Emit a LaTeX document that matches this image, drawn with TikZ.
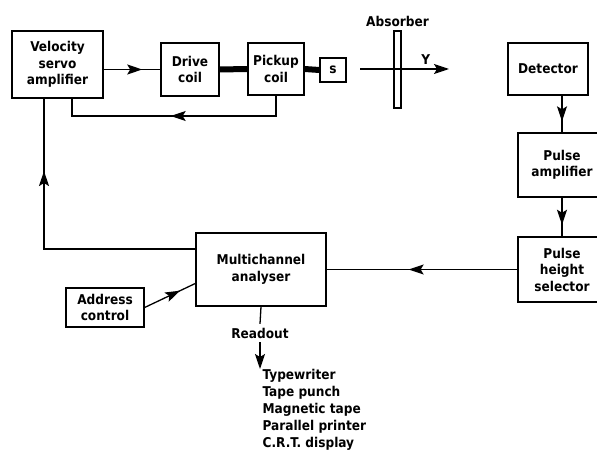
\documentclass[tikz,border=0pt]{standalone}
\usepackage{fontspec}
\setmainfont{DejaVu Sans Condensed}
\usetikzlibrary{positioning,arrows.meta,decorations.markings}

\begin{document}
\begin{tikzpicture}[x=1pt,y=-1pt,line width=1.3pt,
    font=\fontsize{13.5}{16.5}\selectfont\bfseries,
    unit/.style={draw,align=center,inner sep=0pt},
    tip/.style={-{Stealth[length=15pt,width=10pt,inset=3pt]}},
    midarrow/.style={postaction={decorate},decoration={markings,
        mark=at position #1 with {\arrow{Stealth[length=15pt,width=10pt,inset=3pt]}}}}]
    \useasboundingbox (0,0) rectangle (597,457);

    % upper row
    \node[unit,minimum width=91,minimum height=67] (servo) at (57.5,64.5) {Velocity\\servo\\amplifier};
    \node[unit,minimum width=58,minimum height=53] (drive) at (190,69.5) {Drive\\coil};
    \node[unit,minimum width=56,minimum height=52] (pickup) at (276,69) {Pickup\\coil};
    \node[unit,minimum width=26,minimum height=24] (source) at (333,70) {s};
    \node[draw,minimum width=7,minimum height=77,inner sep=0pt] (absorber) at (397.5,69.5) {};
    \node[above=0pt of absorber] (abslabel) {Absorber};
    \node[unit,minimum width=80,minimum height=52] (detector) at (548,69) {Detector};

    % right column and lower row
    \node[unit,minimum width=88,minimum height=64] (pulseamp) at (562,165) {Pulse\\amplifier};
    \node[unit,minimum width=88,minimum height=65] (selector) at (562,269.5) {Pulse\\height\\selector};
    \node[unit,minimum width=130,minimum height=73] (analyser) at (261,269.5) {Multichannel\\analyser};
    \node[unit,minimum width=78,minimum height=39] (address) at (105,307.5) {Address\\control};
    \node (readout) at (260,333) {Readout};
    \node[align=left,anchor=north west,inner sep=0pt,font=\fontsize{13.5}{17}\selectfont\bfseries] (devices) at (262,369)
        {Typewriter\\Tape punch\\Magnetic tape\\Parallel printer\\C.R.T. display};

    \coordinate (beamstart) at (360,69);
    \coordinate (beamend) at (449,69);
    \coordinate (fb) at (72,116);
    \coordinate (loop) at (44,249);

    \draw[midarrow=0.68] (servo.east |- drive.west) -- (drive.west);
    \draw[line width=6pt] (drive.east) -- (pickup.west);
    \draw[line width=6pt] (pickup.east) -- (source.west);
    \draw[tip] (beamstart) -- (beamend) node[pos=0.74,above=1pt] {Y};
    \draw[midarrow=0.52] (pickup.south) |- (fb) -- (fb |- servo.south);

    \draw[midarrow=0.7] (detector.south -| pulseamp) -- (pulseamp.north);
    \draw[midarrow=0.7] (pulseamp.south) -- (selector.north);
    \draw[midarrow=0.57] (selector.west) -- (analyser.east);
    \draw[midarrow=0.76] (analyser.west |- loop) -- (loop) -- (loop |- servo.south);
    \draw[midarrow=0.7] (address.east) -- (analyser.192);

    \draw (analyser.south) -- (readout.north);
    \draw[tip] (readout.south) -- (readout.south |- devices.north);
\end{tikzpicture}
\end{document}
